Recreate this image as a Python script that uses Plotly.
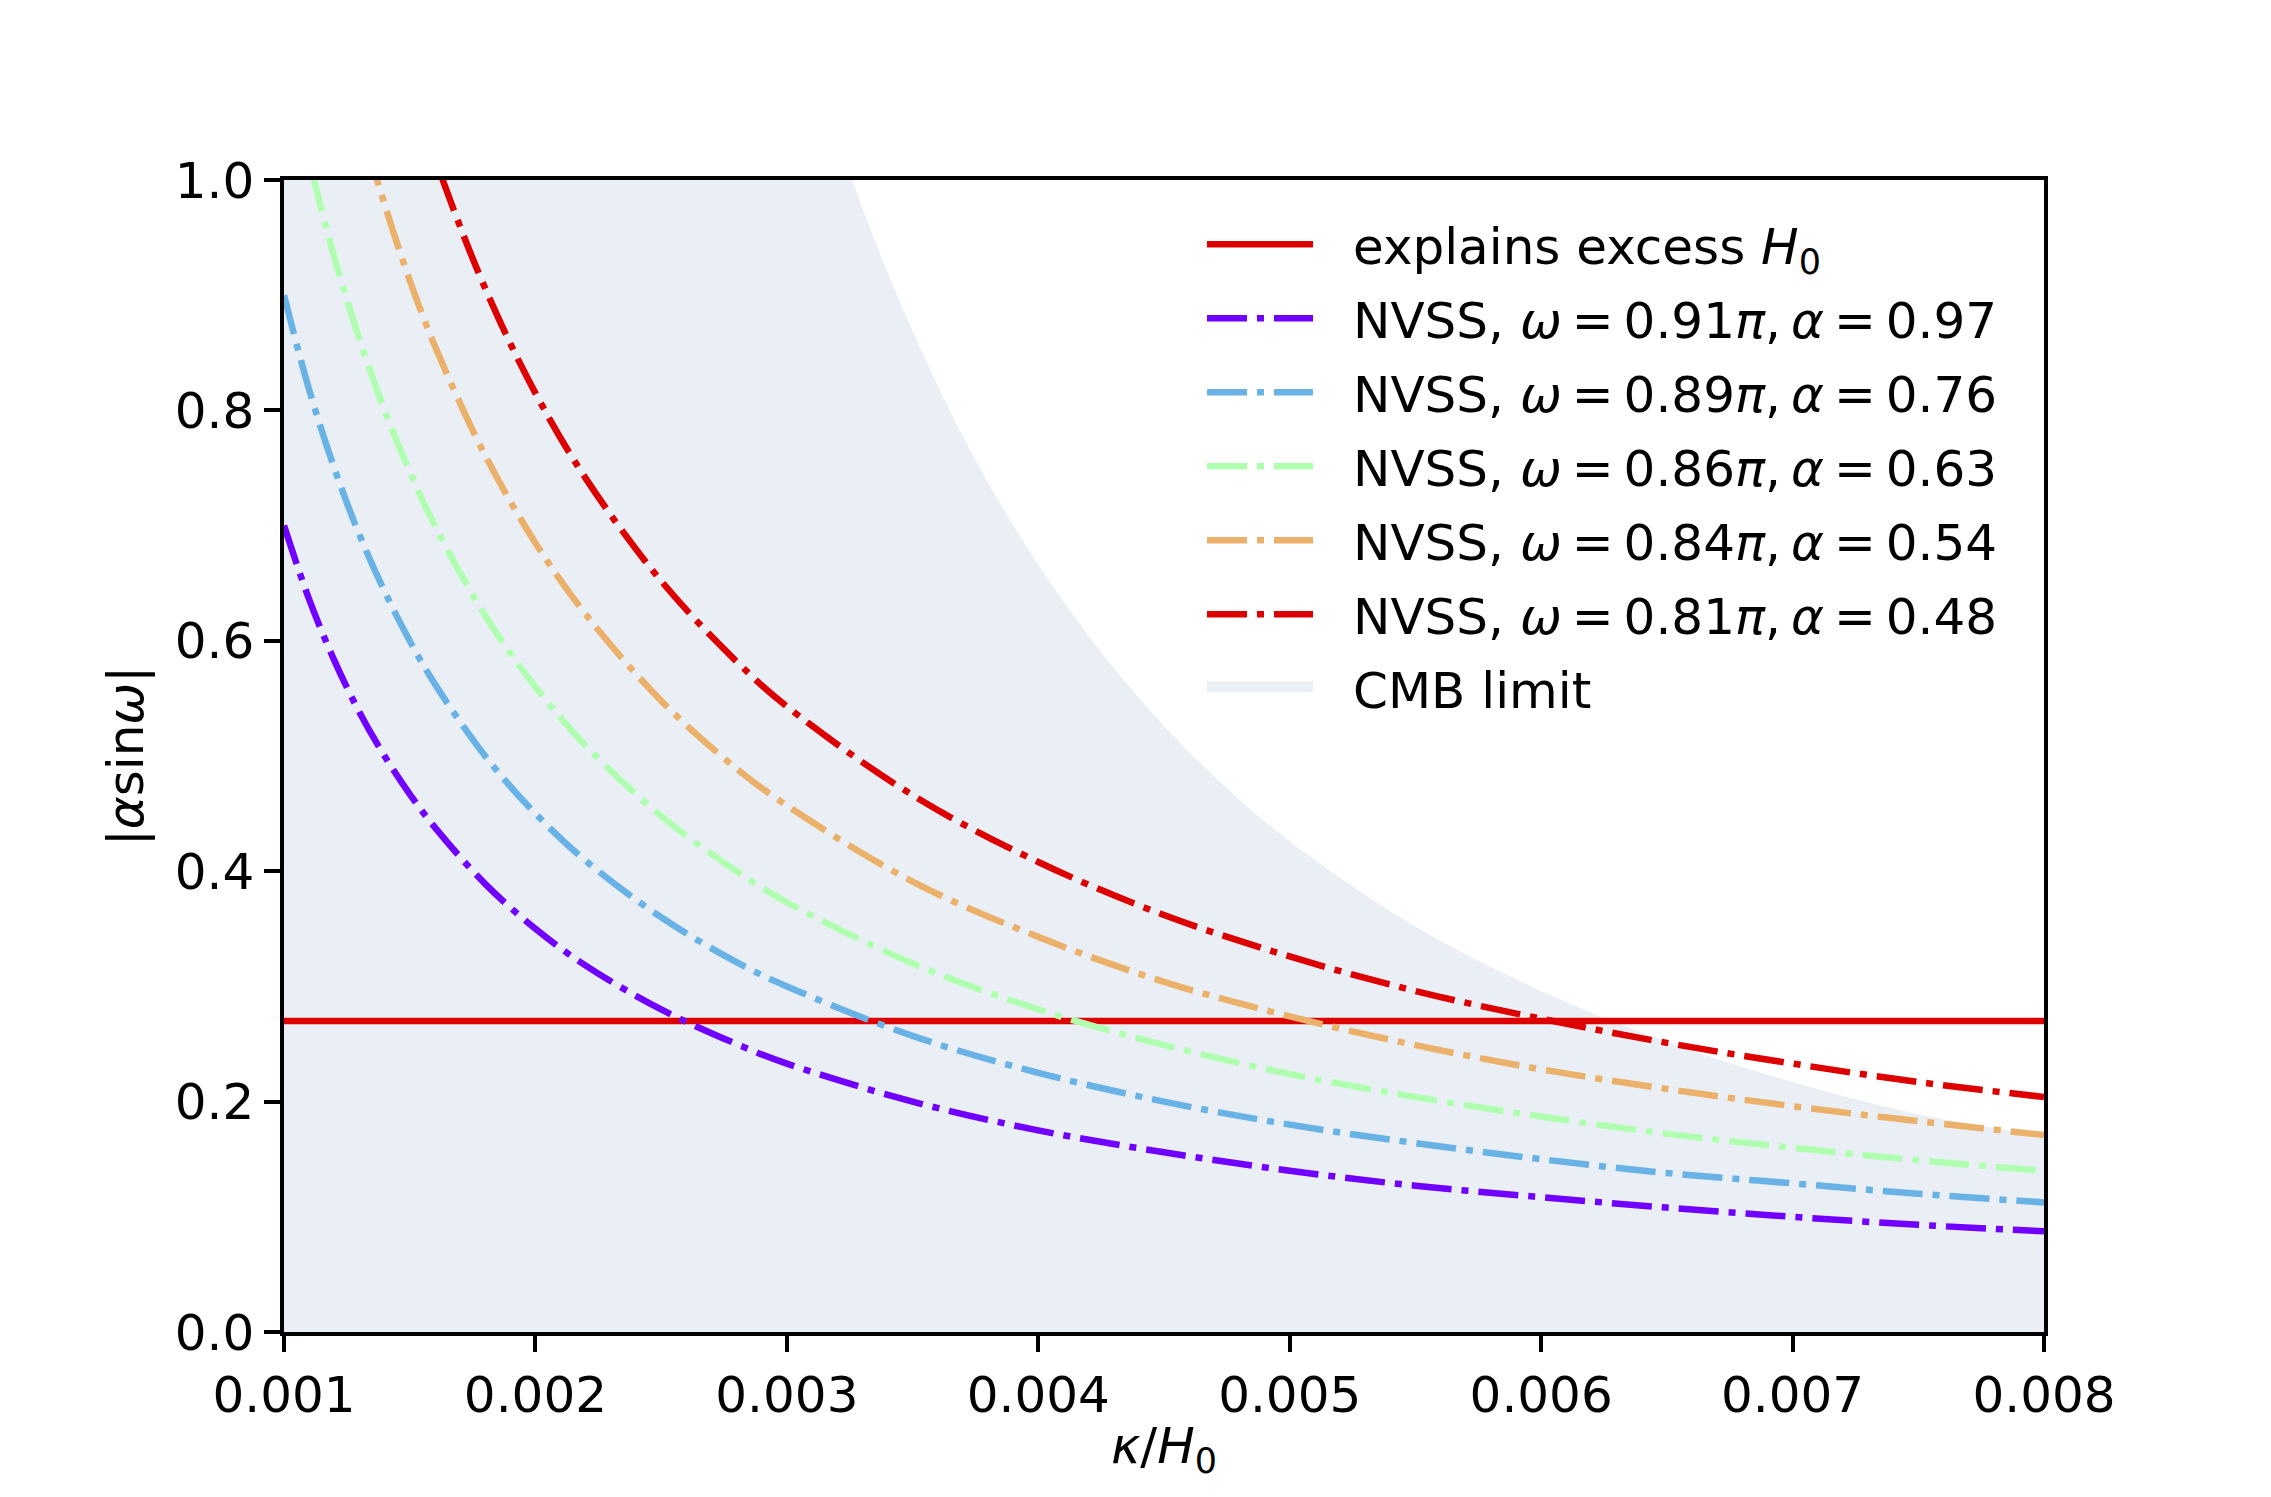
import plotly.graph_objects as go

# ---- data ----
kappa = [0.001, 0.0011, 0.0012, 0.0013, 0.0014, 0.0015, 0.0016, 0.0018, 0.002,
         0.0022, 0.0025, 0.0028, 0.003, 0.0035, 0.004, 0.0045, 0.005, 0.0055,
         0.006, 0.0065, 0.007, 0.0075, 0.008]

nvss_091 = [0.70, 0.636, 0.583, 0.538, 0.50, 0.467, 0.438, 0.389, 0.35,
            0.318, 0.28, 0.25, 0.233, 0.20, 0.175, 0.156, 0.14, 0.127,
            0.117, 0.108, 0.10, 0.093, 0.0875]
nvss_089 = [0.90, 0.818, 0.75, 0.692, 0.643, 0.60, 0.5625, 0.50, 0.45,
            0.409, 0.36, 0.321, 0.30, 0.257, 0.225, 0.20, 0.18, 0.164,
            0.15, 0.138, 0.129, 0.12, 0.1125]
nvss_086 = [1.12, 1.018, 0.933, 0.862, 0.80, 0.747, 0.70, 0.622, 0.56,
            0.509, 0.448, 0.40, 0.373, 0.32, 0.28, 0.249, 0.224, 0.204,
            0.187, 0.172, 0.16, 0.149, 0.14]
nvss_084 = [1.37, 1.245, 1.142, 1.054, 0.979, 0.913, 0.856, 0.761, 0.685,
            0.623, 0.548, 0.489, 0.457, 0.391, 0.343, 0.304, 0.274, 0.249,
            0.228, 0.211, 0.196, 0.183, 0.171]
nvss_081 = [1.63, 1.482, 1.358, 1.254, 1.164, 1.087, 1.019, 0.906, 0.815,
            0.741, 0.652, 0.582, 0.543, 0.466, 0.408, 0.362, 0.326, 0.296,
            0.272, 0.251, 0.233, 0.217, 0.204]

excess_x = [0.001, 0.008]
excess_y = [0.27, 0.27]

cmb_x = [0.001, 0.0015, 0.002, 0.0025, 0.003, 0.00326, 0.0035, 0.00375, 0.004,
         0.00425, 0.0045, 0.00475, 0.005, 0.0055, 0.006, 0.0065, 0.007, 0.0075, 0.008]
cmb_y = [10.6, 4.7, 2.66, 1.7, 1.18, 1.0, 0.869, 0.757, 0.666,
         0.590, 0.526, 0.472, 0.426, 0.352, 0.296, 0.252, 0.217, 0.189, 0.17]

x_ticks = [0.001, 0.002, 0.003, 0.004, 0.005, 0.006, 0.007, 0.008]
y_ticks = [0.0, 0.2, 0.4, 0.6, 0.8, 1.0]

GAP = "\u2002\u2009"  # space between legend key and label
T = "\u2009"          # thin space (mathtext-like spacing)
nvss_series = [
    (f"NVSS, <i>ω</i>{T}={T}0.91<i>π</i>,{T}<i>α</i>{T}={T}0.97", nvss_091, "#7000ff"),
    (f"NVSS, <i>ω</i>{T}={T}0.89<i>π</i>,{T}<i>α</i>{T}={T}0.76", nvss_089, "#68b2e6"),
    (f"NVSS, <i>ω</i>{T}={T}0.86<i>π</i>,{T}<i>α</i>{T}={T}0.63", nvss_086, "#b0ffb0"),
    (f"NVSS, <i>ω</i>{T}={T}0.84<i>π</i>,{T}<i>α</i>{T}={T}0.54", nvss_084, "#ebb06a"),
    (f"NVSS, <i>ω</i>{T}={T}0.81<i>π</i>,{T}<i>α</i>{T}={T}0.48", nvss_081, "#dd0000"),
]

FONT = "DejaVu Sans"
FS = 50
LW = 6.5
DASHDOT = "40px,10px,7px,10px"
CMB_COLOR = "#eaeff6"

fig = go.Figure()

# CMB limit shading (drawn first, under the lines)
fig.add_trace(go.Scatter(
    x=cmb_x, y=cmb_y, mode="lines", fill="tozeroy", line_shape="spline",
    fillcolor=CMB_COLOR, line=dict(width=0, color=CMB_COLOR),
    name="CMB limit", showlegend=False, legendgroup="g7",
))
# legend key for the CMB shading (legend-only entry)
fig.add_trace(go.Scatter(
    x=[None], y=[None], mode="lines", fill="toself", fillcolor=CMB_COLOR,
    line=dict(width=34, color=CMB_COLOR),
    name=GAP + "CMB limit", legendgroup="g7", legendrank=7,
))

fig.add_trace(go.Scatter(
    x=excess_x, y=excess_y, mode="lines",
    line=dict(color="#dd0000", width=LW),
    name=GAP + "explains excess <i>H</i><sub>0</sub>", legendgroup="g1", legendrank=1,
))

for i, (name, ys, col) in enumerate(nvss_series):
    fig.add_trace(go.Scatter(
        x=kappa, y=ys, mode="lines", line_shape="spline",
        line=dict(color=col, width=LW, dash=DASHDOT),
        name=GAP + name, legendgroup=f"g{i+2}", legendrank=i + 2,
    ))

axis_common = dict(
    showline=True, linecolor="black", linewidth=3.5, mirror=True,
    ticks="outside", ticklen=16, tickwidth=3.5, tickcolor="black",
    showgrid=False, zeroline=False,
    tickfont=dict(family=FONT, size=FS, color="black"),
)

fig.update_xaxes(
    range=[0.001, 0.008], tickvals=x_ticks, tickformat=".3f",
    title=dict(text="<i>κ</i>/<i>H</i><sub>0</sub>",
               font=dict(family=FONT, size=FS, color="black"), standoff=6),
    **axis_common,
)
fig.update_yaxes(
    range=[0, 1.0], tickvals=y_ticks, tickformat=".1f",
    title=dict(text="|<i>α</i>sin<i>ω</i>|",
               font=dict(family=FONT, size=FS, color="black"), standoff=16),
    **axis_common,
)

fig.update_layout(
    width=2263, height=1489,
    margin=dict(l=276, r=227, t=172, b=165, autoexpand=False),
    paper_bgcolor="white", plot_bgcolor="white",
    font=dict(family=FONT, size=FS, color="black"),
    legend=dict(
        x=0.5216, y=0.978, xanchor="left", yanchor="top",
        bgcolor="rgba(255,255,255,0)", borderwidth=0,
        traceorder="grouped", tracegroupgap=6,
        font=dict(family=FONT, size=FS, color="black"),
        itemwidth=106,
    ),
    showlegend=True,
)

fig.write_html("out.html")
